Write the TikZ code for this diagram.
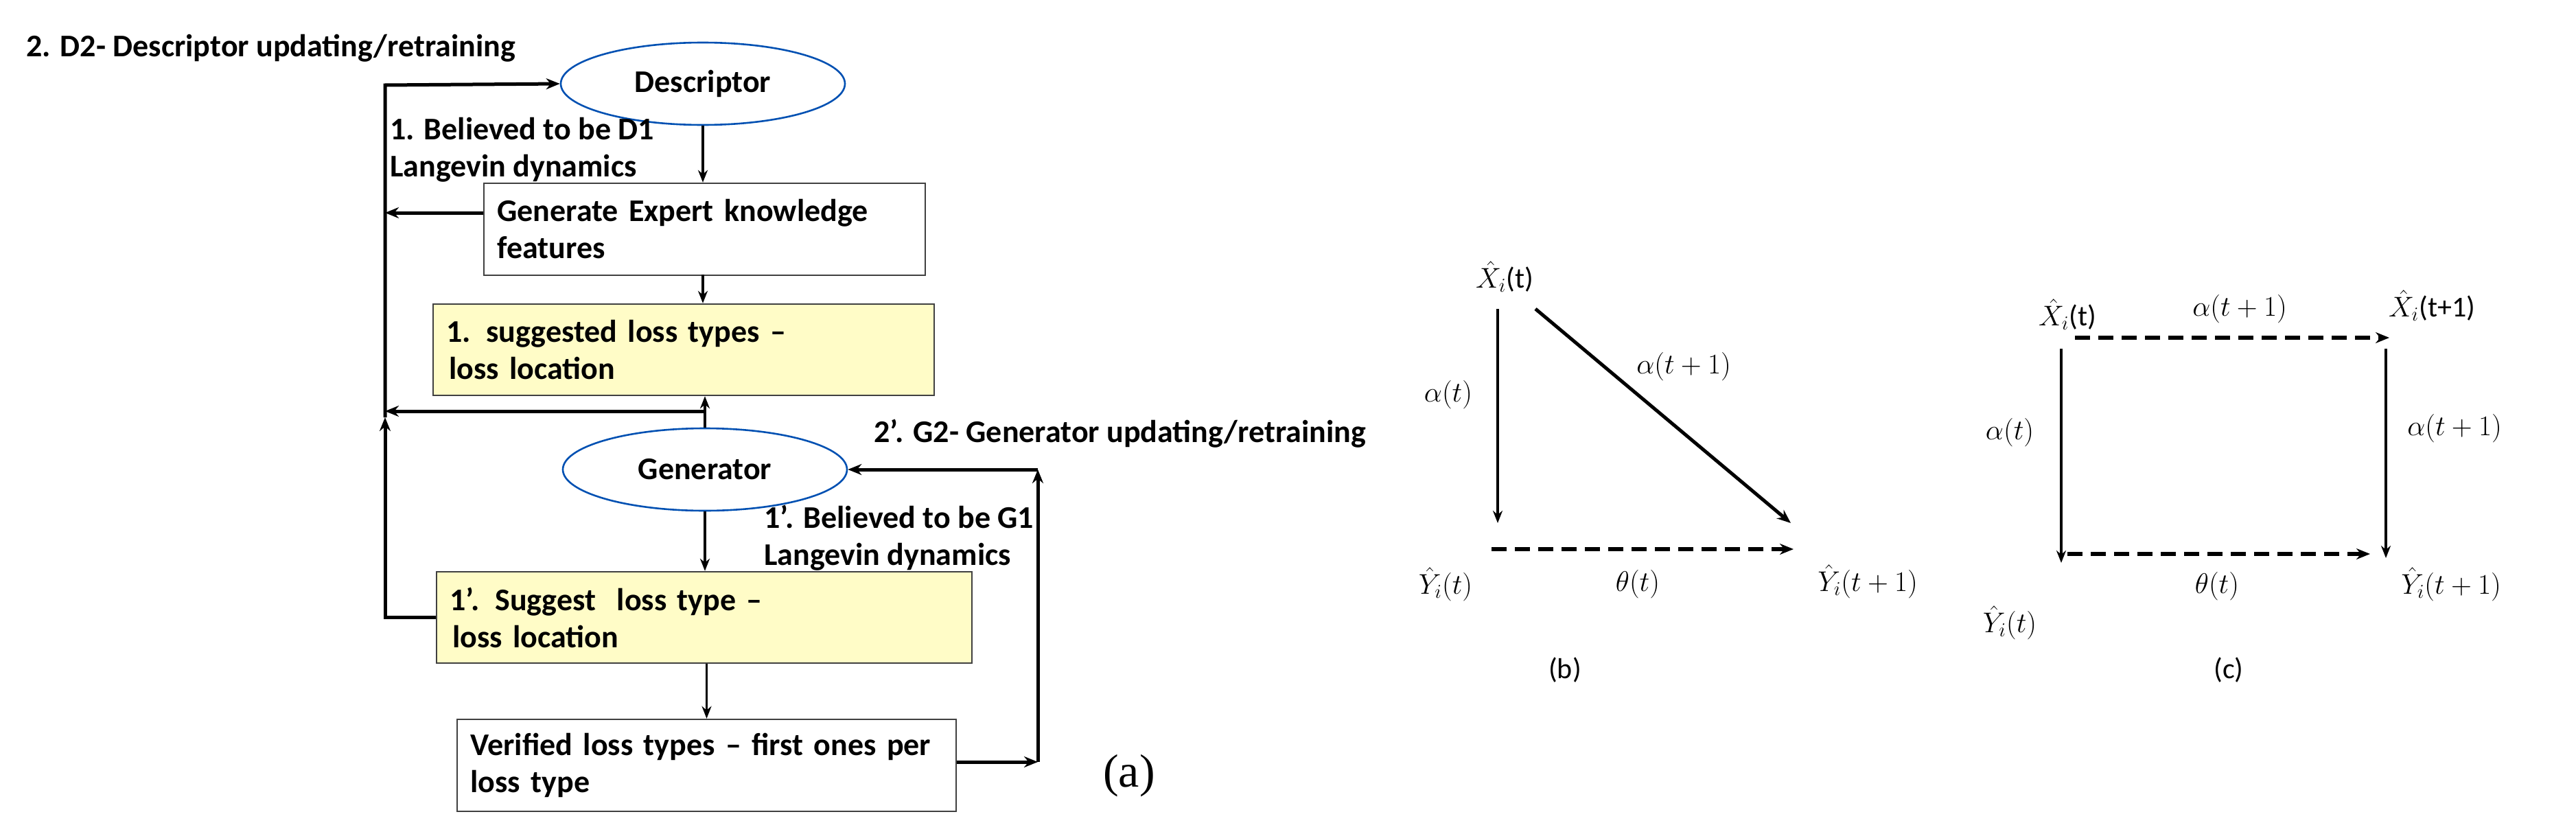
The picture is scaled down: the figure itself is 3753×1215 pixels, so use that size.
\documentclass[tikz,border=0pt]{standalone}
\usepackage{fontspec}
\setmainfont{Carlito}
\usetikzlibrary{arrows.meta,shapes.geometric}
\begin{document}
\begin{tikzpicture}[x=0.5pt,y=-0.5pt,
  txt/.style={font=\fontsize{23}{27}\selectfont\bfseries,inner sep=0pt,align=left},
  box/.style={draw=black!75,line width=1.2pt,inner xsep=9.5pt,inner ysep=0pt,align=left,
    font=\fontsize{23}{27}\selectfont\bfseries,anchor=center},
  yel/.style={box,fill=yellow!22},
  ell/.style={draw=blue!55!cyan!70!black,line width=1.3pt,ellipse,minimum width=207pt,minimum height=60pt,
    font=\fontsize{23}{24}\selectfont\bfseries},
  ar/.style={-{Stealth[length=9pt,width=7pt]},line width=1.6pt},
  tar/.style={-{Stealth[length=10pt,width=8pt]},line width=2.5pt},
  dar/.style={-{Stealth[length=10pt,width=8pt]},line width=3pt,dash pattern=on 11pt off 6pt},
  mth/.style={font=\fontsize{21}{24}\selectfont,inner sep=0pt},
  sub/.style={font=\fontsize{21}{24}\selectfont,inner sep=0pt}]
\useasboundingbox (0,0) rectangle (3753,1215);
% (a)
\node[txt,anchor=west] (title) at (38,70) {2. D2- Descriptor updating/retraining};
\node[ell] (desc) at (1024,122) {Descriptor};
\node[ell] (gen) at (1027,684) {Generator};
\node[box,minimum width=321.5pt,minimum height=67pt,text width=302pt] (b1) at (1026.5,334) {Generate Expert knowledge\\features};
\node[yel,minimum width=365pt,minimum height=66.5pt,text width=346pt] (b2) at (996,509.5) {1. suggested loss types --\\\hspace{2pt}loss location};
\node[yel,minimum width=390pt,minimum height=66.5pt,text width=371pt] (b3) at (1026,899.5) {1\textquoteright. Suggest\ \ loss type --\\\hspace{2pt}loss location};
\node[box,minimum width=363.5pt,minimum height=67pt,text width=344pt] (b4) at (1029.5,1115) {Verified loss types -- first ones per\\loss type};
\node[txt,anchor=west] (l1) at (568,218) {1. Believed to be D1\\Langevin dynamics};
\node[txt,anchor=west] (l2) at (1273,632) {2\textquoteright. G2- Generator updating/retraining};
\node[txt,anchor=west] (l3) at (1113,784) {1\textquoteright. Believed to be G1\\Langevin dynamics};
\node[font=\fontsize{34}{40}\selectfont\fontspec{Liberation Serif},inner sep=0pt] (a) at (1645,1130) {(a)};
\coordinate (c0) at (561,124);
\coordinate (c1) at (561,310);
\coordinate (c2) at (561,599);
\coordinate (c3) at (561,608);
\coordinate (c4) at (1027,599);
\coordinate (c5) at (1512,1110);
\coordinate (c6) at (1512,684);
\draw[ar] (desc.south) -- (desc.south |- b1.north);
\draw[ar] (b1.north -| desc.south) ++(0,134) -- (desc.south |- b2.north);
\draw[ar] (gen.north) -- (gen.north |- b2.south);
\draw[ar] (gen.south) -- (gen.south |- b3.north);
\draw[ar] (b3.south -| b4.north) -- (b4.north);
\draw[tar] (b1.west |- c1) -- (c1);
\draw[tar] (c4) -- (c2);
\draw[tar] (b3.west) -| (c3);
\draw[tar] (c3) -- (c0) -- (desc.west);
\draw[tar] (b4.east |- c5) -- (c5);
\draw[tar] (c5) -- (c6);
\draw[tar] (c6) -- (gen.east);
% (b)
\node[mth] (bx) at (2192,403) {$\hat{X}_i$(t)};
\node[mth] (by) at (2106,851) {$\hat{Y}_i(t)$};
\node[mth] (by1) at (2721,847) {$\hat{Y}_i(t+1)$};
\node[mth] (bal) at (2110,575) {$\alpha(t)$};
\node[mth] (ba1) at (2453,534) {$\alpha(t+1)$};
\node[mth] (bth) at (2386,851) {$\theta(t)$};
\node[sub] (bl) at (2280,976) {(b)};
\coordinate (b0) at (2182,450);
\coordinate (b0e) at (2182,762);
\coordinate (bd0) at (2237,450);
\coordinate (bd1) at (2609,762);
\coordinate (bh0) at (2173,800);
\coordinate (bh1) at (2613,800);
\draw[ar] (b0) -- (b0e);
\draw[tar] (bd0) -- (bd1);
\draw[dar] (bh0) -- (bh1);
% (c)
\node[mth] (cx) at (3012,458) {$\hat{X}_i$(t)};
\node[mth] (cx1) at (3543,445) {$\hat{X}_i$(t+1)};
\node[mth] (cat) at (3263,450) {$\alpha(t+1)$};
\node[mth] (cal) at (2928,630) {$\alpha(t)$};
\node[mth] (car) at (3576,624) {$\alpha(t+1)$};
\node[mth] (cth) at (3230,854) {$\theta(t)$};
\node[mth] (cy1) at (3571,851) {$\hat{Y}_i(t+1)$};
\node[mth] (cy) at (2928,907) {$\hat{Y}_i(t)$};
\node[sub] (cl) at (3247,976) {(c)};
\coordinate (ct0) at (3023,492);
\coordinate (ct1) at (3481,492);
\coordinate (cl0) at (3003,508);
\coordinate (cl1) at (3003,820);
\coordinate (cr0) at (3476,508);
\coordinate (cr1) at (3476,813);
\coordinate (cb0) at (3012,807);
\coordinate (cb1) at (3453,807);
\draw[dar] (ct0) -- (ct1);
\draw[ar] (cl0) -- (cl1);
\draw[ar] (cr0) -- (cr1);
\draw[dar] (cb0) -- (cb1);
\end{tikzpicture}
\end{document}
